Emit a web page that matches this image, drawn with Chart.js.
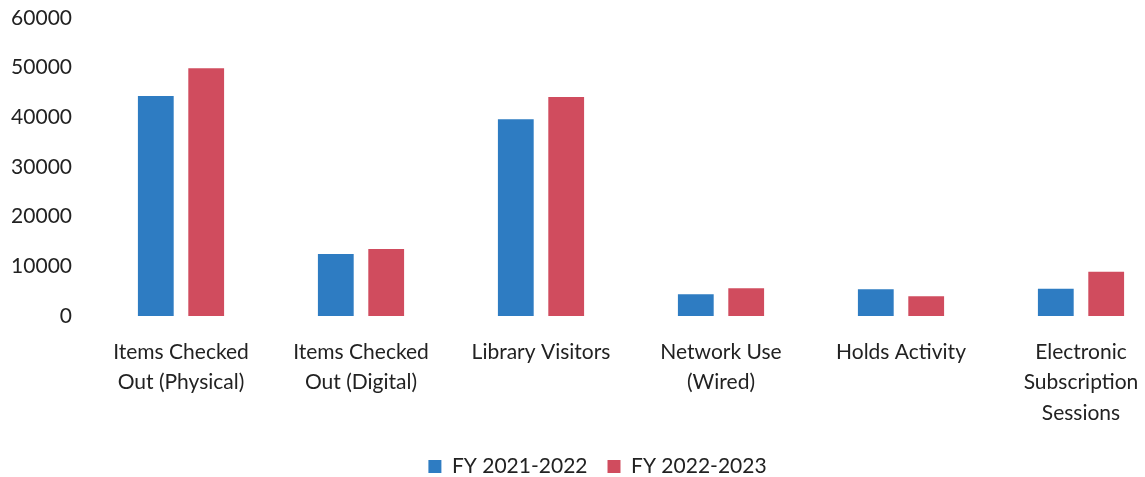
<!DOCTYPE html>
<html>
<head>
<meta charset="utf-8">
<script src="https://cdn.jsdelivr.net/npm/chart.js@4"></script>
<style>
  html, body { margin: 0; padding: 0; background: #fff; overflow: hidden; }
  #wrap { position: absolute; left: 0; top: 0; width: 1200px; height: 477px; }
</style>
</head>
<body>
<div id="wrap"><canvas id="chart" width="1200" height="477"></canvas></div>
<script>
// ===== Data =====
const categories = [
  ['Items Checked', 'Out (Physical)'],
  ['Items Checked', 'Out (Digital)'],
  ['Library Visitors'],
  ['Network Use', '(Wired)'],
  ['Holds Activity'],
  ['Electronic', 'Subscription', 'Sessions'],
];
const fy2122 = [44300, 12500, 39600, 4400, 5400, 5500];
const fy2223 = [49900, 13500, 44100, 5600, 4000, 8900];
const yTicks = [0, 10000, 20000, 30000, 40000, 50000, 60000];

const BLUE = '#2e7cc2';
const RED  = '#d04c5e';
const FONT = 'Lato, "Noto Sans", sans-serif';

// nudge the legend a little to the right, as in the original
const legendShift = {
  id: 'legendShift',
  afterLayout(chart) {
    chart.legend.left += 12;
    chart.legend.right += 12;
  },
};

// The original chart is a bit wider than the photographed crop, so the
// canvas is 1200px and its right edge falls outside the window.
new Chart(document.getElementById('chart'), {
  type: 'bar',
  plugins: [legendShift],
  data: {
    labels: categories,
    datasets: [
      { label: 'FY 2021-2022', data: fy2122, backgroundColor: BLUE },
      { label: 'FY 2022-2023', data: fy2223, backgroundColor: RED },
    ],
  },
  options: {
    responsive: false,
    animation: false,
    categoryPercentage: 0.56,
    barPercentage: 0.71,
    layout: { padding: { top: 18, left: 0, right: 29, bottom: -10 } },
    plugins: {
      tooltip: { enabled: false },
      legend: {
        position: 'bottom',
        labels: {
          color: '#222',
          font: { family: FONT, size: 21 },
          boxWidth: 13,
          boxHeight: 13,
          padding: 20,
        },
      },
    },
    scales: {
      x: {
        grid: { display: false, drawTicks: false },
        border: { display: false },
        ticks: {
          color: '#222',
          padding: 21,
          maxRotation: 0,
          autoSkip: false,
          font: { family: FONT, size: 21, lineHeight: 1.45 },
        },
        afterFit: s => { s.height = 120; s.paddingLeft = 0; s.paddingRight = 0; },
      },
      y: {
        min: 0,
        max: 60000,
        grid: { display: false, drawTicks: false },
        border: { display: false },
        afterBuildTicks: s => { s.ticks = yTicks.map(v => ({ value: v })); },
        ticks: {
          color: '#222',
          padding: 19,
          font: { family: FONT, size: 21 },
          callback: v => String(v),
        },
        afterFit: s => { s.width = 91; s.paddingTop = 0; s.paddingBottom = 0; },
      },
    },
  },
});
</script>
</body>
</html>
